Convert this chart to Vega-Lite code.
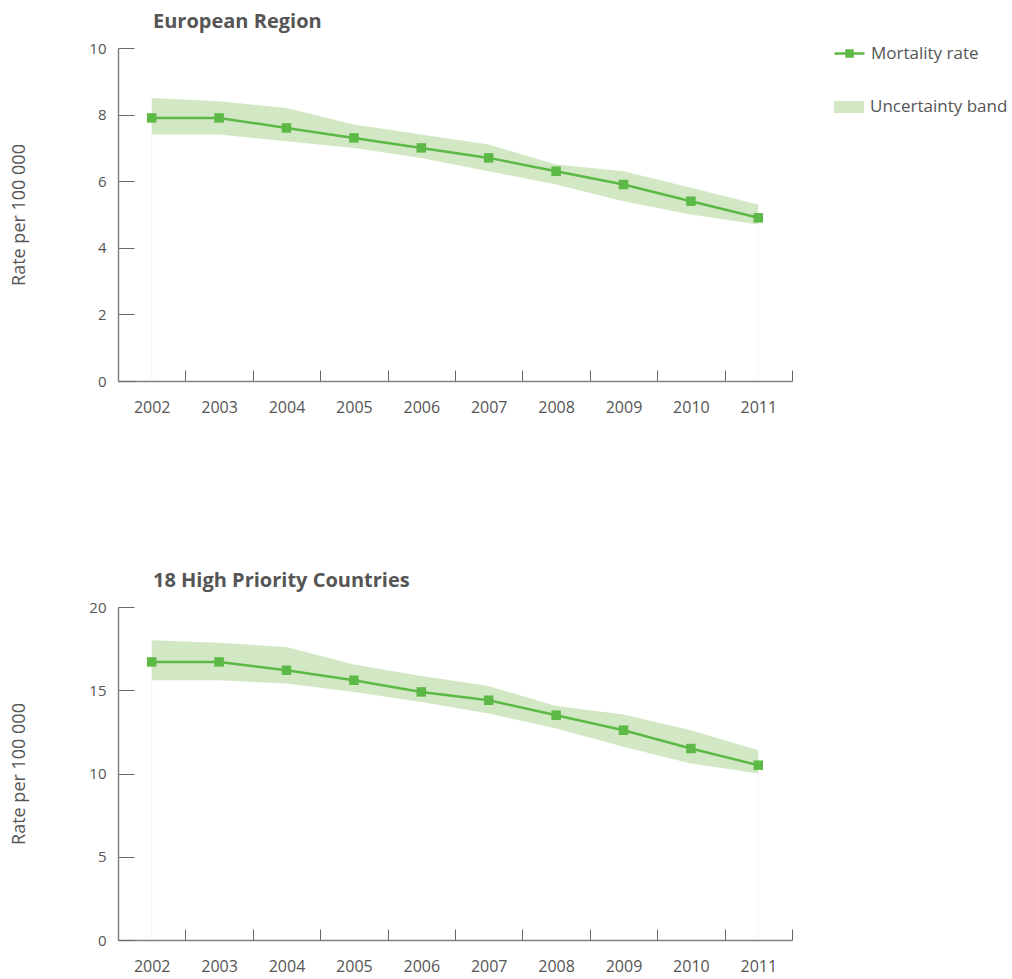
{
  "$schema": "https://vega.github.io/schema/vega-lite/v6.json",
  "background": "white",
  "padding": {"left": 10, "top": 12, "right": 5, "bottom": 5},
  "config": {
    "font": "Open Sans",
    "view": {"stroke": null},
    "concat": {"spacing": 156},
    "axis": {
      "grid": false,
      "domainColor": "#808080",
      "domainWidth": 1.5,
      "tickColor": "#666666",
      "tickWidth": 1,
      "labelColor": "#555555",
      "labelFontSize": 15,
      "titleColor": "#555555",
      "titleFontSize": 18,
      "titleFontWeight": "normal"
    },
    "legend": {
      "labelColor": "#555555",
      "labelFontSize": 17,
      "padding": 0
    },
    "title": {"color": "#555555", "fontSize": 20, "fontWeight": "bold", "anchor": "start", "frame": "group"}
  },
  "datasets": {
    "eu": [
      {"year": "2002", "rate": 7.9, "lower": 7.4, "upper": 8.5},
      {"year": "2003", "rate": 7.9, "lower": 7.4, "upper": 8.4},
      {"year": "2004", "rate": 7.6, "lower": 7.2, "upper": 8.2},
      {"year": "2005", "rate": 7.3, "lower": 7.0, "upper": 7.7},
      {"year": "2006", "rate": 7.0, "lower": 6.7, "upper": 7.4},
      {"year": "2007", "rate": 6.7, "lower": 6.3, "upper": 7.1},
      {"year": "2008", "rate": 6.3, "lower": 5.9, "upper": 6.5},
      {"year": "2009", "rate": 5.9, "lower": 5.4, "upper": 6.3},
      {"year": "2010", "rate": 5.4, "lower": 5.0, "upper": 5.8},
      {"year": "2011", "rate": 4.9, "lower": 4.7, "upper": 5.3}
    ],
    "hpc": [
      {"year": "2002", "rate": 16.7, "lower": 15.6, "upper": 18.0},
      {"year": "2003", "rate": 16.7, "lower": 15.6, "upper": 17.85},
      {"year": "2004", "rate": 16.2, "lower": 15.4, "upper": 17.6},
      {"year": "2005", "rate": 15.6, "lower": 14.9, "upper": 16.55},
      {"year": "2006", "rate": 14.9, "lower": 14.3, "upper": 15.85},
      {"year": "2007", "rate": 14.4, "lower": 13.6, "upper": 15.25},
      {"year": "2008", "rate": 13.5, "lower": 12.7, "upper": 14.05},
      {"year": "2009", "rate": 12.6, "lower": 11.6, "upper": 13.55},
      {"year": "2010", "rate": 11.5, "lower": 10.6, "upper": 12.6},
      {"year": "2011", "rate": 10.5, "lower": 10.0, "upper": 11.4}
    ]
  },
  "vconcat": [
    {
      "title": {"text": "European Region", "dx": 35, "offset": 9},
      "width": 674,
      "height": 333,
      "data": {"name": "eu"},
      "encoding": {
        "x": {
          "field": "year", "type": "ordinal",
          "scale": {"type": "band", "paddingInner": 0, "paddingOuter": 0},
          "axis": {"title": null, "labelAngle": 0, "tickBand": "extent", "tickSize": -11, "labelPadding": 29, "labelFontSize": 16}
        }
      },
      "layer": [
        {
          "mark": {"type": "area", "opacity": 1},
          "encoding": {
            "y": {"field": "upper", "type": "quantitative", "scale": {"domain": [0, 10]},
              "axis": {"title": "Rate per 100 000", "values": [0, 2, 4, 6, 8, 10], "tickSize": -16, "labelPadding": 28, "titlePadding": 60}},
            "y2": {"field": "lower"},
            "fill": {"datum": "Uncertainty band", "type": "nominal", "scale": {"range": ["#d2e7c3"]},
              "legend": {"title": null, "orient": "none", "legendX": 715, "legendY": 43, "symbolType": "M-1,-0.4H1V0.4H-1Z", "symbolSize": 900, "labelOffset": 5}}
          }
        },
        {
          "transform": [{"filter": {"field": "year", "oneOf": ["2002", "2011"]}}],
          "mark": {"type": "rule", "color": "#f3f3f3", "strokeWidth": 1},
          "encoding": {"y": {"field": "lower", "type": "quantitative"}, "y2": {"datum": 0}}
        },
        {
          "mark": {"type": "line", "strokeWidth": 2.5},
          "encoding": {
            "y": {"field": "rate", "type": "quantitative"},
            "stroke": {"datum": "Mortality rate", "type": "nominal", "scale": {"range": ["#5cb946"]},
              "legend": {"title": null, "orient": "none", "legendX": 715, "legendY": -11, "symbolType": "M-1,0H1M-0.2,-0.2H0.2V0.2H-0.2Z", "symbolSize": 900, "symbolStrokeWidth": 2.5, "symbolFillColor": "#5cb946", "labelOffset": 5}}
          }
        },
        {
          "mark": {"type": "point", "shape": "square", "filled": true, "color": "#5cb946", "size": 90, "opacity": 1},
          "encoding": {"y": {"field": "rate", "type": "quantitative"}}
        }
      ]
    },
    {
      "title": {"text": "18 High Priority Countries", "dx": 35, "offset": 9},
      "width": 674,
      "height": 333,
      "data": {"name": "hpc"},
      "encoding": {
        "x": {
          "field": "year", "type": "ordinal",
          "scale": {"type": "band", "paddingInner": 0, "paddingOuter": 0},
          "axis": {"title": null, "labelAngle": 0, "tickBand": "extent", "tickSize": -11, "labelPadding": 29, "labelFontSize": 16}
        }
      },
      "layer": [
        {
          "mark": {"type": "area", "opacity": 1},
          "encoding": {
            "y": {"field": "upper", "type": "quantitative", "scale": {"domain": [0, 20]},
              "axis": {"title": "Rate per 100 000", "values": [0, 5, 10, 15, 20], "tickSize": -16, "labelPadding": 28, "titlePadding": 60}},
            "y2": {"field": "lower"},
            "fill": {"datum": "Uncertainty band", "type": "nominal", "scale": {"range": ["#d2e7c3"]},
              "legend": {"title": null, "orient": "none", "legendX": 715, "legendY": 43, "symbolType": "M-1,-0.4H1V0.4H-1Z", "symbolSize": 900, "labelOffset": 5}}
          }
        },
        {
          "transform": [{"filter": {"field": "year", "oneOf": ["2002", "2011"]}}],
          "mark": {"type": "rule", "color": "#f3f3f3", "strokeWidth": 1},
          "encoding": {"y": {"field": "lower", "type": "quantitative"}, "y2": {"datum": 0}}
        },
        {
          "mark": {"type": "line", "strokeWidth": 2.5},
          "encoding": {
            "y": {"field": "rate", "type": "quantitative"},
            "stroke": {"datum": "Mortality rate", "type": "nominal", "scale": {"range": ["#5cb946"]},
              "legend": {"title": null, "orient": "none", "legendX": 715, "legendY": -11, "symbolType": "M-1,0H1M-0.2,-0.2H0.2V0.2H-0.2Z", "symbolSize": 900, "symbolStrokeWidth": 2.5, "symbolFillColor": "#5cb946", "labelOffset": 5}}
          }
        },
        {
          "mark": {"type": "point", "shape": "square", "filled": true, "color": "#5cb946", "size": 90, "opacity": 1},
          "encoding": {"y": {"field": "rate", "type": "quantitative"}}
        }
      ]
    }
  ]
}
